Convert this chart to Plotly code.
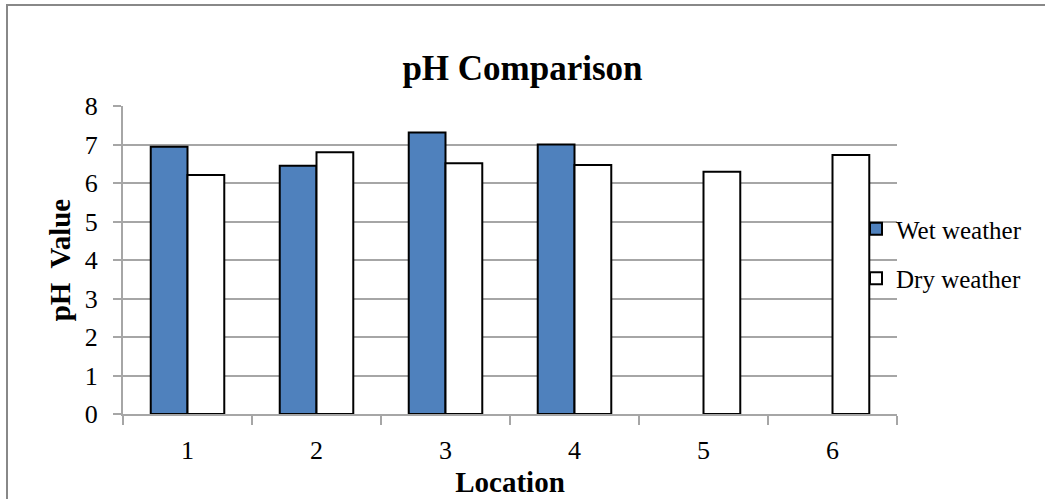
import plotly.graph_objects as go

# Sampling locations and measured pH values
locations = ["1", "2", "3", "4", "5", "6"]
wet_weather = [6.94, 6.45, 7.31, 7.00, None, None]
dry_weather = [6.21, 6.80, 6.51, 6.47, 6.29, 6.73]

W, H = 1045, 499
ML, MR, MT, MB = 123, 148, 106, 85
PW, PH = W - ML - MR, H - MT - MB

def px_x(px):
    return (px - ML) / PW

def px_y(py):
    return (H - MB - py) / PH

FONT = "Liberation Serif"
GRID = "#a6a6a6"

fig = go.Figure()
fig.add_trace(go.Bar(
    x=locations, y=wet_weather, name="Wet weather",
    marker=dict(color="#4f81bd", line=dict(color="black", width=2)),
    legendgroup="wet",
))
fig.add_trace(go.Bar(
    x=locations, y=dry_weather, name="Dry weather",
    marker=dict(color="white", line=dict(color="black", width=2)),
    legendgroup="dry",
))

fig.update_layout(
    width=W, height=H,
    margin=dict(l=ML, r=MR, t=MT, b=MB, pad=0, autoexpand=False),
    paper_bgcolor="white", plot_bgcolor="white",
    font=dict(family=FONT, color="black", size=25),
    barmode="group", bargap=0.43, bargroupgap=0,
    title=dict(text="<b>pH Comparison</b>", font=dict(size=35, family=FONT),
               x=0.5, xref="container", xanchor="center",
               y=1 - 68 / H, yref="container", yanchor="middle"),
    showlegend=True,
    legend=dict(x=px_x(856), xanchor="left", y=px_y(206), yanchor="top",
                traceorder="grouped", tracegroupgap=14,
                font=dict(size=25, family=FONT, color="black"),
                bgcolor="rgba(0,0,0,0)", itemwidth=30),
    xaxis=dict(type="category", showline=True, linecolor=GRID, linewidth=2,
               ticks="outside", tickson="boundaries", ticklen=9, tickwidth=2,
               tickcolor=GRID, showgrid=False, automargin=False,
               tickfont=dict(size=26, family=FONT, color="black"),
               ticklabelstandoff=12,
               title=dict(text="<b>Location</b>",
                          font=dict(size=29, family=FONT, color="black"),
                          standoff=7)),
    yaxis=dict(range=[0, 8], dtick=1, showline=True, linecolor=GRID, linewidth=2,
               ticks="outside", ticklen=8, tickwidth=2, tickcolor=GRID,
               showgrid=True, gridcolor=GRID, gridwidth=2, zeroline=False,
               automargin=False,
               tickfont=dict(size=26, family=FONT, color="black"),
               ticklabelstandoff=10,
               title=dict(text="<b>pH\u00a0 Value</b>",
                          font=dict(size=29, family=FONT, color="black"),
                          standoff=6)),
)

# Outer chart frame
fig.add_shape(type="rect", xref="paper", yref="paper",
              x0=px_x(7), x1=px_x(1060), y0=px_y(520), y1=px_y(5),
              line=dict(color="#888888", width=2), fillcolor="rgba(0,0,0,0)",
              layer="below")

fig.write_html("out.html")
